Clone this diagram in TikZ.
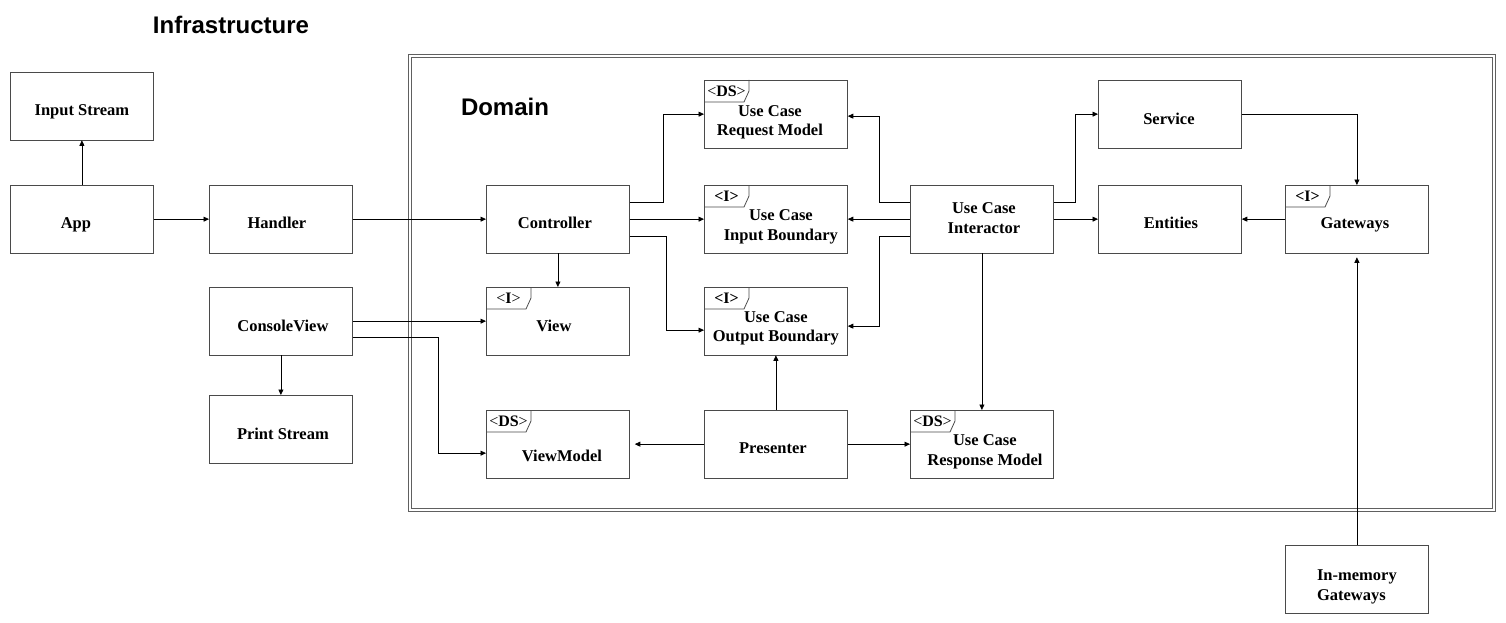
\documentclass[tikz,border=0pt]{standalone}
\usepackage{fontspec}
\setmainfont{Liberation Serif}
\newfontfamily\titlefont{Liberation Sans}
\usetikzlibrary{arrows.meta,calc}
\definecolor{boxgray}{HTML}{4A4A4A}
\definecolor{framegray}{HTML}{606060}
\newcommand\mktag[2]{%
  \draw[boxline] ($(#1.north west)+(45,0)$) -- ++(0,11) -- ++(-5,11) -- ($(#1.north west)+(0,22)$);
  \node[tagtxt] (#1-tag) at ($(#1.north west)+(22.5,11.5)$) {#2};}
\begin{document}
\begin{tikzpicture}[x=1pt,y=-1pt,
  boxline/.style={draw=boxgray, line width=0.8pt},
  box/.style={boxline, minimum width=143pt, minimum height=67.5pt, inner sep=0pt, anchor=north west},
  lbl/.style={font=\fontsize{16.5}{19.5}\selectfont\bfseries, align=center, inner sep=0pt},
  tagtxt/.style={font=\fontsize{16}{16}\selectfont, inner sep=0pt},
  conn/.style={draw=black, line width=0.7pt, -{Triangle[length=5.5pt,width=5pt]}},
  title/.style={font=\titlefont\fontsize{24}{24}\selectfont\bfseries, inner sep=0pt}]
\useasboundingbox (0,0) rectangle (1506,623);

% titles and domain frame
\node[title] (infra) at (231,25) {Infrastructure};
\node[draw=framegray, double, double distance=2.2pt, line width=0.8pt, minimum width=1084pt, minimum height=454pt, inner sep=0pt, anchor=north west] (domain) at (409.5,55.5) {};
\node[title] (dom) at (505,107) {Domain};

% boxes
\node[box] (input) at (10,72) {};
\node[box] (app) at (10,185) {};
\node[box] (handler) at (209,185) {};
\node[box] (console) at (209,287) {};
\node[box] (print) at (209,395) {};
\node[box] (ctrl) at (486,185) {};
\node[box] (view) at (486,287) {};
\node[box] (vm) at (486,410) {};
\node[box] (ucrm) at (704,80) {};
\node[box] (ucib) at (704,185) {};
\node[box] (ucob) at (704,287) {};
\node[box] (pres) at (704,410) {};
\node[box] (uci) at (910,185) {};
\node[box] (ucresp) at (910,410) {};
\node[box] (service) at (1098,80) {};
\node[box] (entities) at (1098,185) {};
\node[box] (gw) at (1285,185) {};
\node[box] (imgw) at (1285,545) {};

% tags
\mktag{ucrm}{<\textbf{DS}>}
\mktag{ucib}{\textbf{<I>}}
\mktag{ucob}{\textbf{<I>}}
\mktag{view}{<\textbf{I}>}
\mktag{vm}{<\textbf{DS}>}
\mktag{ucresp}{<\textbf{DS}>}
\mktag{gw}{\textbf{<I>}}

% labels
\node[lbl] (input-t) at ($(input.center)+(0,6)$) {Input Stream};
\node[lbl] (app-t) at ($(app.center)+(-6,5.5)$) {App};
\node[lbl] (handler-t) at ($(handler.center)+(-4,4)$) {Handler};
\node[lbl] (console-t) at ($(console.center)+(2,4.5)$) {ConsoleView};
\node[lbl] (print-t) at ($(print.center)+(2,4.5)$) {Print Stream};
\node[lbl] (ctrl-t) at ($(ctrl.center)+(-3,4)$) {Controller};
\node[lbl] (view-t) at ($(view.center)+(-4,4.5)$) {View};
\node[lbl] (vm-t) at ($(vm.center)+(4,12)$) {ViewModel};
\node[lbl] (ucrm-t) at ($(ucrm.center)+(-6,8)$) {Use Case\\Request Model};
\node[lbl] (ucib-t) at ($(ucib.center)+(5,7.5)$) {Use Case\\Input Boundary};
\node[lbl] (ucob-t) at ($(ucob.center)+(0,7)$) {Use Case\\Output Boundary};
\node[lbl] (pres-t) at ($(pres.center)+(-3,4.5)$) {Presenter};
\node[lbl] (uci-t) at ($(uci.center)+(2,-1)$) {Use Case\\Interactor};
\node[lbl] (ucresp-t) at ($(ucresp.center)+(3,7.5)$) {Use Case\\Response Model};
\node[lbl] (service-t) at ($(service.center)+(-1,4.5)$) {Service};
\node[lbl] (entities-t) at ($(entities.center)+(1,4)$) {Entities};
\node[lbl] (gw-t) at ($(gw.center)+(-2,5.5)$) {Gateways};
\node[lbl, align=left] (imgw-t) at ($(imgw.center)+(0,7.5)$) {In-memory\\Gateways};

% free ends
\coordinate (vmin) at ($(vm.east)+(5,0)$);
\coordinate (gwin) at ($(gw.south)+(0,4)$);

% connectors
\draw[conn] (app.north) -- (input.south);
\draw[conn] (app) -- (handler);
\draw[conn] (handler) -- (ctrl);
\draw[conn] ($(ctrl.north east)+(0,17)$) -| ($(ucrm.west)+(-41,0)$) -- (ucrm.west);
\draw[conn] (ctrl) -- (ucib);
\draw[conn] ($(ctrl.north east)+(0,51)$) -| ($(ucob.west)+(-38,9)$) -- ($(ucob.west)+(0,9)$);
\draw[conn] (ctrl.south) -- (view.north);
\draw[conn] (console.east) -- (view.west);
\draw[conn] ($(console.north east)+(0,50)$) -| ($(vm.west)+(-48,9)$) -- ($(vm.west)+(0,9)$);
\draw[conn] (console.south) -- (print.north);
\draw[conn] (pres.west) -- (vmin);
\draw[conn] (pres) -- (ucresp);
\draw[conn] (pres.north) -- (ucob.south);
\draw[conn] ($(uci.north west)+(0,17)$) -| ($(ucrm.east)+(32,2)$) -- ($(ucrm.east)+(0,2)$);
\draw[conn] (uci) -- (ucib);
\draw[conn] ($(uci.north west)+(0,51)$) -| ($(ucob.east)+(32,5)$) -- ($(ucob.east)+(0,5)$);
\draw[conn] (uci.south) -- (ucresp.north);
\draw[conn] ($(uci.north east)+(0,17)$) -| ($(service.west)+(-23,0)$) -- (service.west);
\draw[conn] (uci) -- (entities);
\draw[conn] (service.east) -| (gw.north);
\draw[conn] (gw) -- (entities);
\draw[conn] (imgw.north) -- (gwin);
\end{tikzpicture}
\end{document}
